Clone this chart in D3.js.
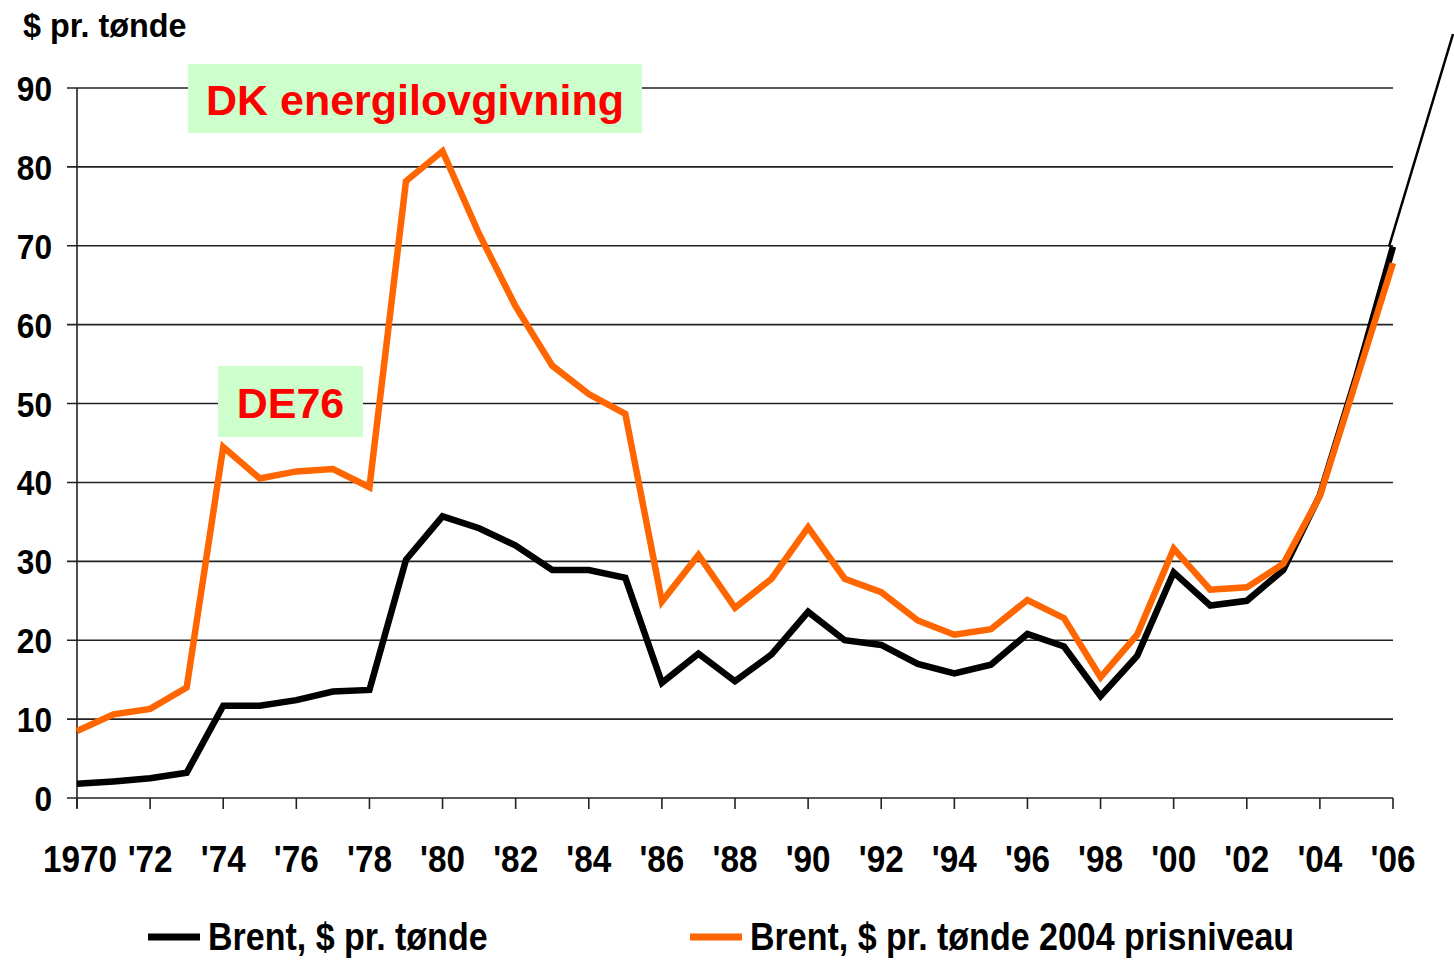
<!DOCTYPE html>
<html lang="en">
<head>
    <meta charset="UTF-8">
    <title>Brent</title>
    <script src="https://cdn.jsdelivr.net/npm/d3@7"></script>
    <style>
        body { margin: 0; background: #fff; }
        svg text { font-family: Arial, "Liberation Sans", sans-serif; }
    </style>
</head>
<body>
<div id="chart"></div>
<script>
    // data
    const years = d3.range(1970, 2007);
    const brent = [1.8, 2.1, 2.5, 3.2, 11.7, 11.7, 12.4, 13.5, 13.7, 30.2,
        35.7, 34.2, 32.0, 28.9, 28.9, 27.9, 14.6, 18.3, 14.8, 18.2,
        23.6, 20.0, 19.4, 17.0, 15.8, 16.9, 20.8, 19.2, 12.9, 18.0,
        28.6, 24.4, 25.0, 28.9, 38.4, 53.5, 69.9];
    const brentReal = [8.5, 10.6, 11.3, 14.0, 44.5, 40.5, 41.4, 41.7, 39.4, 78.2,
        82.0, 71.5, 62.3, 54.8, 51.2, 48.7, 24.9, 30.8, 24.1, 27.8,
        34.3, 27.8, 26.1, 22.5, 20.7, 21.4, 25.1, 22.8, 15.3, 20.7,
        31.6, 26.4, 26.7, 29.7, 38.3, 53.0, 67.8];
    const yTicks = [0, 10, 20, 30, 40, 50, 60, 70, 80, 90];
    const xTickYears = d3.range(1970, 2007, 2);
    const xTickLabels = ["1970", "'72", "'74", "'76", "'78", "'80", "'82", "'84", "'86", "'88",
        "'90", "'92", "'94", "'96", "'98", "'00", "'02", "'04", "'06"];
    const seriesNames = ["Brent, $ pr. tønde", "Brent, $ pr. tønde 2004 prisniveau"];
    const seriesColors = ["#000000", "#ff6600"];

    const width = 1454, height = 961;
    const svg = d3.select("#chart").append("svg")
        .attr("width", width).attr("height", height);

    const x = d3.scaleLinear().domain([1970, 2006]).range([77, 1393]);
    const y = d3.scaleLinear().domain([0, 90]).range([798, 88]);

    // gridlines
    svg.append("g")
        .selectAll("line").data(yTicks).enter().append("line")
        .attr("x1", 67).attr("x2", x(2006))
        .attr("y1", d => y(d)).attr("y2", d => y(d))
        .attr("stroke", "#222").attr("stroke-width", 1.6);

    // y axis line
    svg.append("line")
        .attr("x1", x(1970)).attr("x2", x(1970))
        .attr("y1", y(90)).attr("y2", y(0) + 10)
        .attr("stroke", "#222").attr("stroke-width", 1.6);

    // x ticks
    svg.append("g")
        .selectAll("line").data(xTickYears).enter().append("line")
        .attr("x1", d => x(d)).attr("x2", d => x(d))
        .attr("y1", y(0)).attr("y2", y(0) + 11)
        .attr("stroke", "#222").attr("stroke-width", 1.6);

    // y labels
    svg.append("g")
        .selectAll("text").data(yTicks).enter().append("text")
        .attr("transform", d => `translate(52,${y(d) + 13}) scale(0.88,1)`)
        .attr("text-anchor", "end")
        .attr("font-size", 36).attr("font-weight", "bold")
        .text(d => d);

    // x labels
    svg.append("g")
        .selectAll("text").data(xTickYears).enter().append("text")
        .attr("transform", (d, i) => `translate(${x(d) + (i === 0 ? 3 : 0)},872) scale(0.9,1)`)
        .attr("text-anchor", "middle")
        .attr("font-size", 37).attr("font-weight", "bold")
        .text((d, i) => xTickLabels[i]);

    // unit label
    svg.append("text")
        .attr("transform", "translate(23,37) scale(0.98,1)")
        .attr("font-size", 33).attr("font-weight", "bold")
        .text("$ pr. tønde");

    // annotation boxes
    const notes = [
        { text: "DK energilovgivning", x0: 188, y0: 64, w: 454, h: 69 },
        { text: "DE76", x0: 218, y0: 366, w: 145, h: 71 }
    ];
    const ng = svg.append("g").selectAll("g").data(notes).enter().append("g");
    ng.append("rect")
        .attr("x", d => d.x0).attr("y", d => d.y0)
        .attr("width", d => d.w).attr("height", d => d.h)
        .attr("fill", "#ccffcc");
    ng.append("text")
        .attr("x", d => d.x0 + d.w / 2).attr("y", d => d.y0 + d.h / 2 + 16)
        .attr("text-anchor", "middle")
        .attr("font-size", 43).attr("font-weight", "bold")
        .attr("fill", "#ff0000")
        .text(d => d.text);

    // pointer line off the end of the series
    svg.append("line")
        .attr("x1", x(2006) - 4).attr("y1", y(brent[brent.length - 1]))
        .attr("x2", 1453).attr("y2", 34)
        .attr("stroke", "#000").attr("stroke-width", 2.5);

    const line = d3.line()
        .x((d, i) => x(years[i]))
        .y(d => y(d));

    [brent, brentReal].forEach((s, k) => {
        svg.append("path")
            .datum(s)
            .attr("d", line)
            .attr("fill", "none")
            .attr("stroke", seriesColors[k])
            .attr("stroke-width", 6.5)
            .attr("stroke-linejoin", "miter");
    });

    // legend
    const legendX = [148, 690];
    const lg = svg.append("g").selectAll("g").data(seriesNames).enter().append("g")
        .attr("transform", (d, i) => `translate(${legendX[i]},937)`);
    lg.append("line")
        .attr("x1", 0).attr("x2", 52)
        .attr("stroke", (d, i) => seriesColors[i])
        .attr("stroke-width", 7);
    lg.append("text")
        .attr("transform", "translate(60,13) scale(0.895,1)")
        .attr("font-size", 38).attr("font-weight", "bold")
        .text(d => d);
</script>
</body>
</html>
